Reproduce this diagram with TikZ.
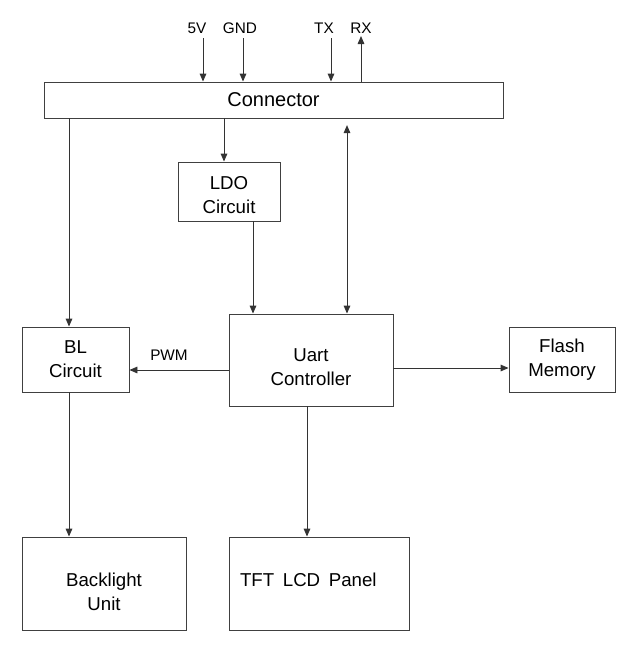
\documentclass[tikz,border=0pt]{standalone}
\usepackage{fontspec}
\setmainfont{Liberation Sans}
\usetikzlibrary{arrows.meta, calc}

\begin{document}
\begin{tikzpicture}[
    x=0.75pt, y=-0.75pt,
    >={Triangle[length=6pt, width=5pt]},
    font=\fontsize{14}{18}\selectfont,
    block/.style={draw=black!75, line width=0.7pt, rectangle, align=center, inner sep=0pt},
    pin/.style={font=\fontsize{11.5}{13}\selectfont, text=black, inner sep=1pt},
    arrow/.style={->, line width=0.7pt, black!80}
  ]
    \useasboundingbox (0,0) rectangle (633,646);
    % blocks
    \node[block, minimum width=344.25pt, minimum height=27pt, font=\fontsize{15}{18}\selectfont] (conn) at (273.5,100) {Connector};
    \node[block, minimum width=76.5pt, minimum height=44.25pt] (ldo) at (229,191.5) {\rule{0pt}{14.5pt}LDO\\Circuit};
    \node[block, minimum width=80.25pt, minimum height=48.75pt] (bl) at (75.5,359.5) {BL\\Circuit};
    \node[block, minimum width=123pt, minimum height=69pt] (uart) at (311,360) {\rule{0pt}{20.5pt}Uart\\Controller};
    \node[block, minimum width=79.5pt, minimum height=48.75pt] (flash) at (562,359.5) {Flash\\Memory};
    \node[block, minimum width=123pt, minimum height=69.75pt] (bklt) at (104,583.5) {\rule{0pt}{22pt}Backlight\\Unit};
    \node[block, text width=118.5pt, minimum height=69.75pt, inner xsep=8.25pt, align=left] (tft) at (319,583.5) {TFT\hspace{6.5pt}LCD\hspace{6.5pt}Panel\rule[-6pt]{0pt}{6pt}};
    % connector pins
    \node[pin] (p5v) at (197,28) {5V};
    \node[pin] (pgnd) at (240,28) {GND};
    \node[pin] (ptx) at (324,28) {TX};
    \node[pin] (prx) at (361,28) {RX};
    \coordinate (c5v) at (203,38);
    \coordinate (cgnd) at (243,38);
    \coordinate (ctx) at (331,38);
    \coordinate (crx) at (361,36);
    \draw[arrow] (c5v) -- (c5v |- conn.north);
    \draw[arrow] (cgnd) -- (cgnd |- conn.north);
    \draw[arrow] (ctx) -- (ctx |- conn.north);
    \draw[arrow] (crx |- conn.north) -- (crx);
    % line positions
    \coordinate (xldo) at (224,0);
    \coordinate (xpwr) at (253,0);
    \coordinate (xbus) at (347,0);
    \coordinate (xbl) at (69,0);
    \coordinate (xtft) at (307,0);
    \coordinate (ypwm) at (0,370);
    \coordinate (yflash) at (0,368);
    % connections
    \draw[arrow] (xldo |- conn.south) -- (xldo |- ldo.north);
    \draw[arrow] (xpwr |- ldo.south) -- (xpwr |- uart.north);
    \draw[<->, line width=0.7pt, black!80, shorten <=5pt] (xbus |- conn.south) -- (xbus |- uart.north);
    \draw[arrow] (xbl |- conn.south) -- (xbl |- bl.north);
    \draw[arrow] (uart.west |- ypwm) -- (bl.east |- ypwm);
    \node[pin] (pwm) at (169,355) {PWM};
    \draw[arrow] (uart.east |- yflash) -- (flash.west |- yflash);
    \draw[arrow] (xbl |- bl.south) -- (xbl |- bklt.north);
    \draw[arrow] (xtft |- uart.south) -- (xtft |- tft.north);
  \end{tikzpicture}
\end{document}
